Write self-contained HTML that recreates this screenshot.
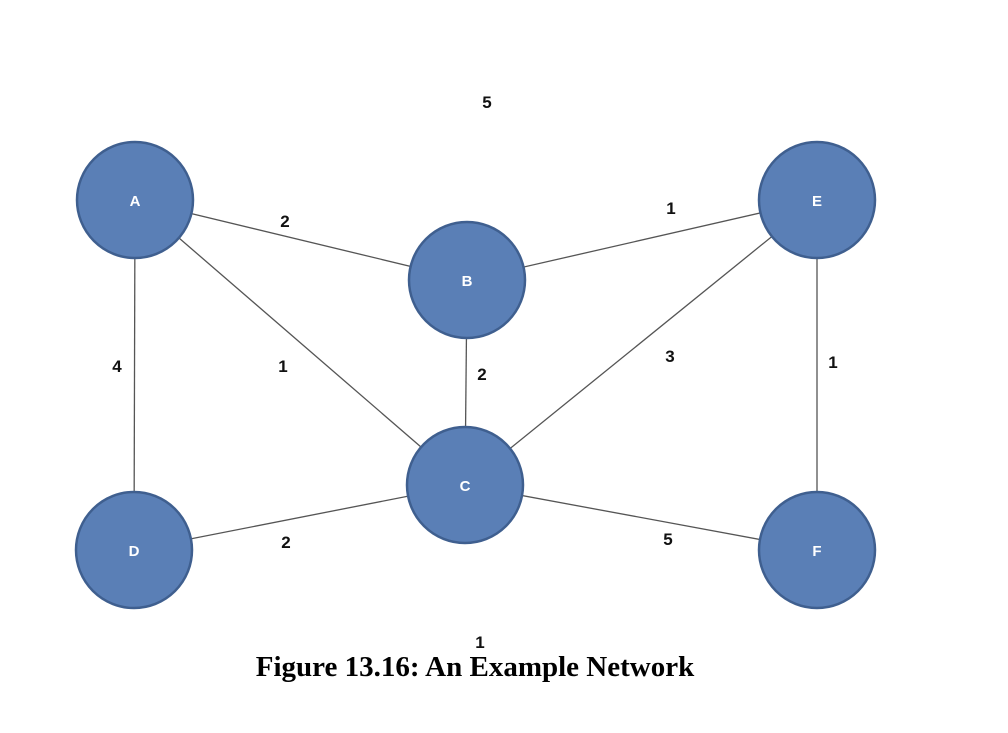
<!DOCTYPE html>
<html><head><meta charset="utf-8"><style>
html,body{margin:0;padding:0;background:#fff;}
</style></head><body>
<svg width="1008" height="728" viewBox="0 0 1008 728" xmlns="http://www.w3.org/2000/svg">
<g stroke="#555" stroke-width="1.3">
<line x1="135" y1="200" x2="467" y2="280"/>
<line x1="135" y1="200" x2="465" y2="485"/>
<line x1="135" y1="200" x2="134" y2="550"/>
<line x1="467" y1="280" x2="817" y2="200"/>
<line x1="467" y1="280" x2="465" y2="485"/>
<line x1="465" y1="485" x2="817" y2="200"/>
<line x1="465" y1="485" x2="134" y2="550"/>
<line x1="465" y1="485" x2="817" y2="550"/>
<line x1="817" y1="200" x2="817" y2="550"/>
</g>
<g fill="#5a7fb6" stroke="#3f5f8f" stroke-width="2.5">
<circle cx="135" cy="200" r="58"/>
<circle cx="467" cy="280" r="58"/>
<circle cx="465" cy="485" r="58"/>
<circle cx="134" cy="550" r="58"/>
<circle cx="817" cy="200" r="58"/>
<circle cx="817" cy="550" r="58"/>
</g>
<g fill="#fff" font-family="Liberation Sans, sans-serif" font-weight="bold" font-size="15" text-anchor="middle">
<text x="135" y="206">A</text>
<text x="467" y="286">B</text>
<text x="465" y="491">C</text>
<text x="134" y="556">D</text>
<text x="817" y="206">E</text>
<text x="817" y="556">F</text>
</g>
<g fill="#111" font-family="Liberation Sans, sans-serif" font-weight="bold" font-size="17" text-anchor="middle">
<text x="487" y="108">5</text>
<text x="285" y="227">2</text>
<text x="671" y="214">1</text>
<text x="117" y="372">4</text>
<text x="283" y="372">1</text>
<text x="482" y="380">2</text>
<text x="670" y="362">3</text>
<text x="833" y="368">1</text>
<text x="286" y="548">2</text>
<text x="668" y="545">5</text>
<text x="480" y="648">1</text>
</g>
<text x="475" y="676" text-anchor="middle" font-family="Liberation Serif, serif" font-weight="bold" font-size="29" fill="#000">Figure 13.16: An Example Network</text>
</svg>
</body></html>
